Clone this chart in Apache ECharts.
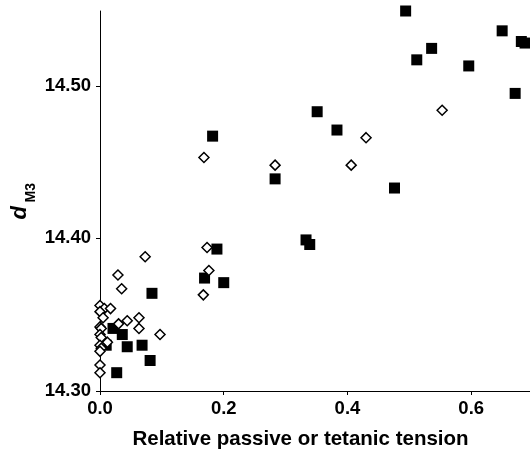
<!DOCTYPE html>
<html>
<head>
<meta charset="utf-8">
<script src="https://cdn.jsdelivr.net/npm/echarts@6/dist/echarts.min.js"></script>
<style>
  html, body { margin: 0; padding: 0; background: #fff; }
  #chart { width: 530px; height: 451px; }
</style>
</head>
<body>
<div id="chart"></div>
<script>
// filled squares
const squareX = [0.494, 0.650, 0.681, 0.687, 0.536, 0.512, 0.596, 0.671, 0.351, 0.383, 0.283, 0.476, 0.333,
  0.339, 0.182, 0.189, 0.169, 0.200, 0.084, 0.021, 0.036, 0.010, 0.044, 0.068, 0.081, 0.027]
const squareY = [14.549, 14.536, 14.529, 14.528, 14.5245, 14.517, 14.513, 14.495, 14.483, 14.471, 14.439, 14.433, 14.399,
  14.396, 14.467, 14.393, 14.374, 14.371, 14.364, 14.341, 14.337, 14.330, 14.329, 14.330, 14.320, 14.312]

// open diamonds
const diamondX = [0.553, 0.430, 0.283, 0.406, 0.168, 0.173, 0.176, 0.167, 0.073, 0.029, 0.035, 0.000, 0.007, 0.017,
  0.000, 0.005, 0.000, 0.002, 0.000, 0.002, 0.012, 0.000, 0.002, 0.000, 0.000, 0.000, 0.030, 0.044, 0.063, 0.063, 0.097]
const diamondY = [14.484, 14.466, 14.448, 14.448, 14.453, 14.394, 14.379, 14.363, 14.388, 14.376, 14.367, 14.356, 14.354, 14.354,
  14.352, 14.348, 14.342, 14.341, 14.337, 14.335, 14.332, 14.330, 14.328, 14.326, 14.317, 14.312, 14.344, 14.346, 14.348, 14.341, 14.337]

const xTicks = [0, 0.2, 0.4, 0.6]
const yTicks = [14.3, 14.4, 14.5]

const xTitle = 'Relative passive or tetanic tension'

const zip = (xs, ys) => xs.map((x, i) => [x, ys[i]])

const font = '"Liberation Sans", Arial, sans-serif'
const chart = echarts.init(document.getElementById('chart'))

chart.setOption({
  animation: false,
  grid: { left: 100, right: 0, top: 11, bottom: 60 },
  xAxis: {
    type: 'value',
    min: 0, max: 0.695,
    axisLine: { lineStyle: { color: '#000', width: 1 } },
    axisTick: { customValues: xTicks, length: 4, lineStyle: { color: '#000' } },
    axisLabel: {
      customValues: xTicks,
      formatter: v => v.toFixed(1),
      color: '#000', fontFamily: font, fontWeight: 'bold', fontSize: 18.5, margin: 8
    },
    splitLine: { show: false }
  },
  yAxis: {
    type: 'value',
    min: 14.3, max: 14.549,
    axisLine: { show: true, lineStyle: { color: '#000', width: 1 } },
    axisTick: { show: true, customValues: yTicks, length: 4, lineStyle: { color: '#000' } },
    axisLabel: {
      customValues: yTicks,
      formatter: v => v.toFixed(2),
      color: '#000', fontFamily: font, fontWeight: 'bold', fontSize: 18.5, margin: 9
    },
    splitLine: { show: false }
  },
  graphic: [
    {
      type: 'text', x: 300.5, y: 439.5,
      style: { text: xTitle, fill: '#000', font: 'bold 20.5px ' + font, textAlign: 'center', textVerticalAlign: 'middle' }
    },
    {
      type: 'text', x: 19.5, y: 219.5, rotation: Math.PI / 2,
      style: { text: 'd', fill: '#000', font: 'italic bold 22px ' + font, textAlign: 'left', textVerticalAlign: 'middle' }
    },
    {
      type: 'text', x: 31, y: 202.5, rotation: Math.PI / 2,
      style: { text: 'M3', fill: '#000', font: 'bold 14px ' + font, textAlign: 'left', textVerticalAlign: 'middle' }
    }
  ],
  series: [
    {
      type: 'scatter',
      data: zip(squareX, squareY),
      symbol: 'rect',
      symbolSize: 11,
      itemStyle: { color: '#000', opacity: 1 }
    },
    {
      type: 'scatter',
      data: zip(diamondX, diamondY),
      symbol: 'diamond',
      symbolSize: 10,
      itemStyle: { color: '#fff', borderColor: '#000', borderWidth: 1.5, opacity: 1 }
    }
  ]
})
</script>
</body>
</html>
